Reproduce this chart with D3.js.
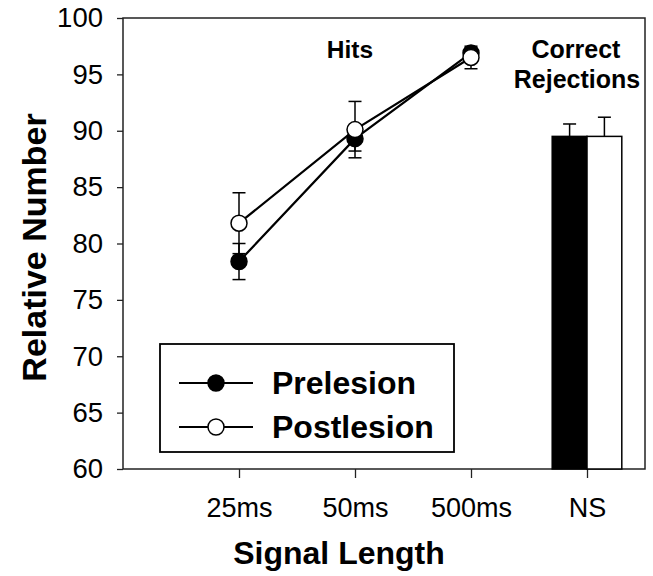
<!DOCTYPE html>
<html>
<head>
<meta charset="utf-8">
<script src="https://cdn.jsdelivr.net/npm/d3@7"></script>
<style>
  html, body { margin: 0; padding: 0; background: #fff; }
  svg { display: block; font-family: "Liberation Sans", Arial, sans-serif; }
</style>
</head>
<body>
<svg id="chart" width="653" height="576"></svg>
<script>
// Signal-length categories for the hit rates, plus the no-signal category
const categories = ["25ms", "50ms", "500ms"];
const noSignalLabel = "NS";
const allTickLabels = ["25ms", "50ms", "500ms", "NS"];

// Hits (percent) with standard errors
const prelesionHits = [78.4, 89.3, 96.9];
const prelesionHitsErr = [1.6, 1.1, 0.4];
const postlesionHits = [81.8, 90.1, 96.5];
const postlesionHitsErr = [2.7, 2.5, 1.0];

// Correct rejections on no-signal trials: [prelesion, postlesion]
const rejections = [89.5, 89.5];
const rejectionsErr = [1.1, 1.7];

const yTickValues = [60, 65, 70, 75, 80, 85, 90, 95, 100];
const seriesNames = ["Prelesion", "Postlesion"];

const svg = d3.select("#chart");
const margin = { left: 123, right: 8, top: 18, bottom: 107 };
const W = 653, H = 576;

const x = d3.scaleLinear().domain([0, 4.5]).range([margin.left, W - margin.right]);
const y = d3.scaleLinear().domain([60, 100]).range([H - margin.bottom, margin.top]);

const frameColor = "#222";

// Plot frame
svg.append("rect")
  .attr("x", x(0)).attr("y", y(100))
  .attr("width", x(4.5) - x(0)).attr("height", y(60) - y(100))
  .attr("fill", "none").attr("stroke", frameColor).attr("stroke-width", 1.5);

// Y axis
const yAxis = d3.axisLeft(y).tickValues(yTickValues).tickSize(6).tickPadding(14).tickFormat(d3.format("d"));
const gy = svg.append("g").attr("transform", `translate(${x(0)},0)`).call(yAxis);
gy.select(".domain").remove();
gy.selectAll(".tick line").attr("stroke", frameColor).attr("stroke-width", 1.3);
gy.selectAll(".tick text").attr("font-size", 27.5).attr("fill", "#000")
  .attr("font-family", "'Liberation Sans', Arial, sans-serif");

// X axis
const xAxis = d3.axisBottom(x).tickValues([1, 2, 3, 4])
  .tickFormat((d, i) => allTickLabels[i]).tickSize(9).tickPadding(20);
const gx = svg.append("g").attr("transform", `translate(0,${y(60)})`).call(xAxis);
gx.select(".domain").remove();
gx.selectAll(".tick line").attr("stroke", frameColor).attr("stroke-width", 1.3);
gx.selectAll(".tick text").attr("font-size", 27).attr("fill", "#000")
  .attr("font-family", "'Liberation Sans', Arial, sans-serif");

// Axis titles
svg.append("text")
  .attr("x", 339).attr("y", 564)
  .attr("text-anchor", "middle").attr("font-weight", "bold").attr("font-size", 32)
  .text("Signal Length");

svg.append("text")
  .attr("transform", `translate(46,${(y(60) + y(100)) / 2 + 4}) rotate(-90)`)
  .attr("text-anchor", "middle").attr("font-weight", "bold").attr("font-size", 34)
  .text("Relative Number");

// Panel titles
svg.append("text")
  .attr("x", x(2) - 5).attr("y", 58)
  .attr("text-anchor", "middle").attr("font-weight", "bold").attr("font-size", 24.5)
  .text("Hits");
const crTitle = svg.append("text")
  .attr("text-anchor", "middle").attr("font-weight", "bold").attr("font-size", 25);
crTitle.append("tspan").attr("x", 576).attr("y", 58).text("Correct");
crTitle.append("tspan").attr("x", 577).attr("y", 88).text("Rejections");

// Correct rejection bars
const barW = 0.3;
const barData = [
  { v: rejections[0], e: rejectionsErr[0], x0: 4 - barW, fill: "#000" },
  { v: rejections[1], e: rejectionsErr[1], x0: 4, fill: "#fff" }
];
const capHalf = 6.5;
barData.forEach(b => {
  const cx = x(b.x0 + barW / 2);
  svg.append("line")
    .attr("x1", cx).attr("x2", cx).attr("y1", y(b.v)).attr("y2", y(b.v + b.e))
    .attr("stroke", "#000").attr("stroke-width", 1.5);
  svg.append("line")
    .attr("x1", cx - capHalf).attr("x2", cx + capHalf).attr("y1", y(b.v + b.e)).attr("y2", y(b.v + b.e))
    .attr("stroke", "#000").attr("stroke-width", 1.5);
  svg.append("rect")
    .attr("x", x(b.x0)).attr("y", y(b.v))
    .attr("width", x(b.x0 + barW) - x(b.x0)).attr("height", y(60) - y(b.v))
    .attr("fill", b.fill).attr("stroke", "#000").attr("stroke-width", 1.5);
});

// Hit-rate series
const series = [
  { name: seriesNames[0], values: prelesionHits, errs: prelesionHitsErr, fill: "#000" },
  { name: seriesNames[1], values: postlesionHits, errs: postlesionHitsErr, fill: "#fff" }
];
const line = d3.line().x((d, i) => x(i + 1)).y(d => y(d));

series.forEach(s => {
  svg.append("path").datum(s.values).attr("d", line)
    .attr("fill", "none").attr("stroke", "#000").attr("stroke-width", 2.2);
});
series.forEach(s => {
  s.values.forEach((v, i) => {
    const cx = x(i + 1);
    const g = svg.append("g");
    g.append("line").attr("x1", cx).attr("x2", cx)
      .attr("y1", y(v - s.errs[i])).attr("y2", y(v + s.errs[i]))
      .attr("stroke", "#000").attr("stroke-width", 1.5);
    [v - s.errs[i], v + s.errs[i]].forEach(ev => {
      g.append("line").attr("x1", cx - capHalf).attr("x2", cx + capHalf)
        .attr("y1", y(ev)).attr("y2", y(ev))
        .attr("stroke", "#000").attr("stroke-width", 1.5);
    });
  });
});
series.forEach(s => {
  svg.append("g").selectAll("circle").data(s.values).join("circle")
    .attr("cx", (d, i) => x(i + 1)).attr("cy", d => y(d)).attr("r", 8)
    .attr("fill", s.fill).attr("stroke", "#000").attr("stroke-width", 1.5);
});

// Legend
const legend = svg.append("g");
legend.append("rect")
  .attr("x", 160).attr("y", 344).attr("width", 294).attr("height", 108)
  .attr("fill", "#fff").attr("stroke", "#000").attr("stroke-width", 1.8);
series.forEach((s, i) => {
  const ly = 383 + i * 44;
  legend.append("line").attr("x1", 179).attr("x2", 253).attr("y1", ly).attr("y2", ly)
    .attr("stroke", "#000").attr("stroke-width", 1.8);
  legend.append("circle").attr("cx", 216).attr("cy", ly).attr("r", 8)
    .attr("fill", s.fill).attr("stroke", "#000").attr("stroke-width", 1.5);
  legend.append("text").attr("x", 272).attr("y", ly + 11)
    .attr("font-weight", "bold").attr("font-size", 32).text(s.name);
});
</script>
</body>
</html>
